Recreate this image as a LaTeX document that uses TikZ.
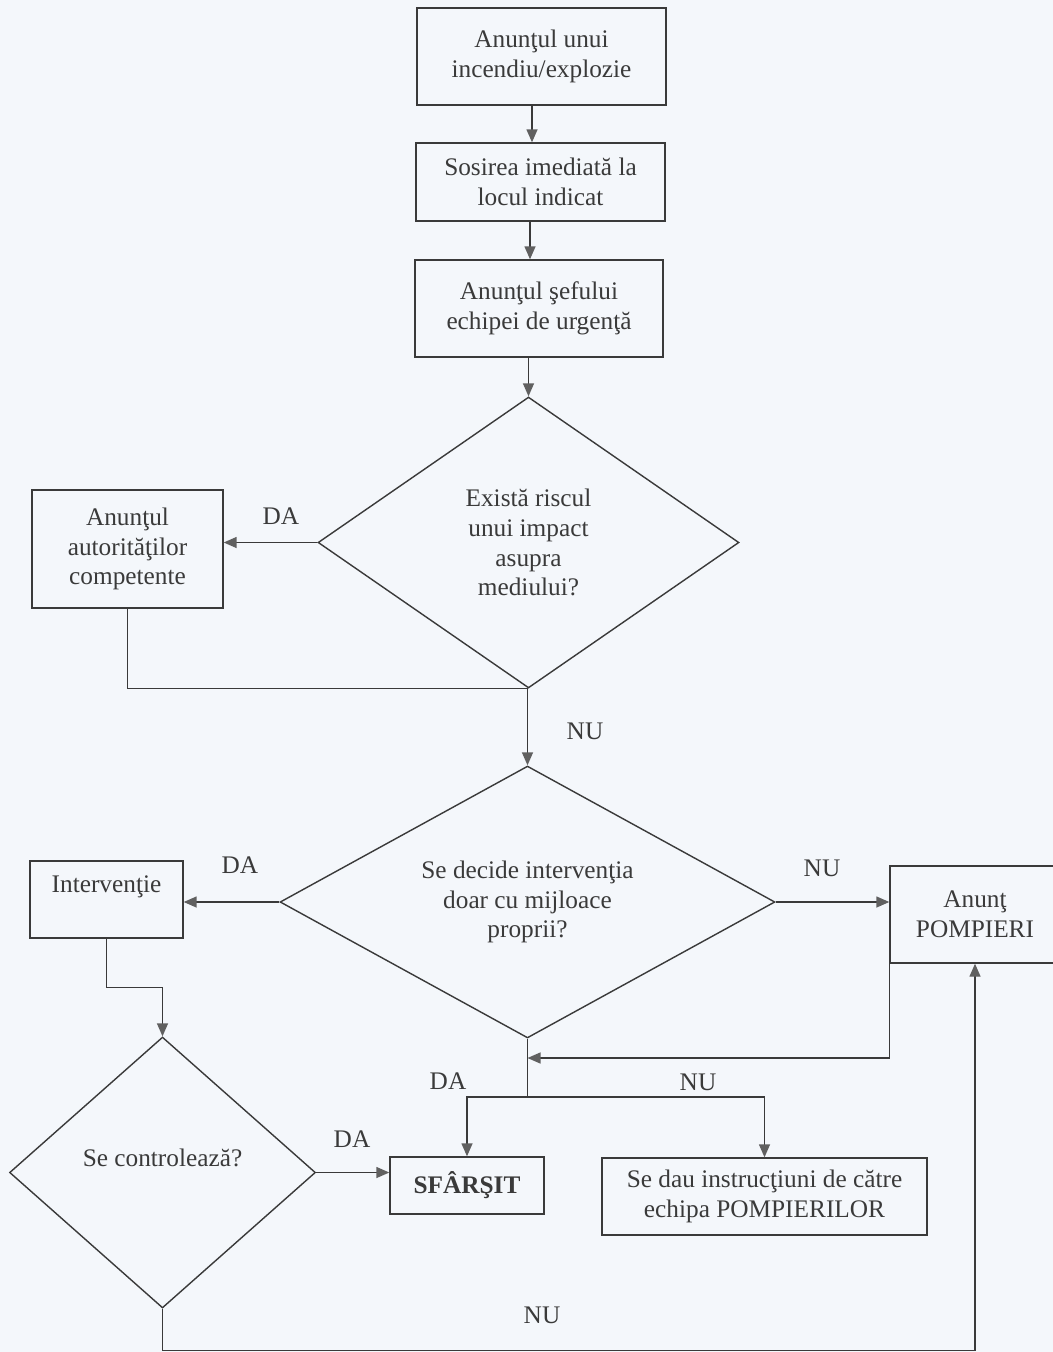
\documentclass[tikz,border=0pt]{standalone}
\usepackage{fontspec}
\setmainfont{Liberation Serif}
\usetikzlibrary{shapes.geometric,arrows.meta}
\definecolor{paper}{RGB}{244,247,251}
\definecolor{ink}{RGB}{58,58,58}
\definecolor{tipgray}{RGB}{96,96,96}

\begin{document}
\begin{tikzpicture}[x=0.02cm,y=-0.02cm]
\tikzstyle{every node}+=[text=ink,font=\fontsize{14.4}{17}\selectfont,align=center]
\tikzstyle{box}=[draw=ink,line width=0.8pt,inner sep=2pt]
\tikzstyle{decision}=[draw=ink,line width=0.8pt,diamond,inner sep=0pt]
\tikzstyle{conn}=[draw=ink,line width=0.8pt]
\tikzstyle{arr}=[conn,-{Triangle[length=0.26cm,width=0.22cm,color=tipgray]}]
\fill[paper] (0,0) rectangle (1053,1352);
\useasboundingbox (0,0) rectangle (1053,1352);
\coordinate (spine) at (532,0);
\coordinate (spinetwo) at (530,0);
\node[box,minimum width=4.98cm,minimum height=1.94cm] (alarm) at (541.5,56.5) {Anunţul unui\\incendiu/explozie};
\node[box,minimum width=4.98cm,minimum height=1.56cm] (arrive) at (540.5,182) {Sosirea imediată la\\locul indicat};
\node[box,minimum width=4.96cm,minimum height=1.94cm] (chief) at (539,308.5) {Anunţul şefului\\echipei de urgenţă};
\node[decision,shape aspect=1.45,minimum width=8.42cm,minimum height=5.82cm] (risk) at (528.5,542.5) {Există riscul\\unui impact\\asupra\\mediului?};
\node[box,minimum width=3.82cm,minimum height=2.36cm] (authority) at (127.5,549) {Anunţul\\autorităţilor\\competente};
\node[decision,shape aspect=1.82,minimum width=9.9cm,minimum height=5.44cm] (decide) at (527.5,902) {Se decide intervenţia\\doar cu mijloace\\proprii?};
\node[box,minimum width=3.06cm,minimum height=1.54cm] (action) at (106.5,899.5) {Intervenţie\\\mbox{}};
\node[box,minimum width=3.4cm,minimum height=1.94cm] (firemen) at (975,914.5) {Anunţ\\POMPIERI};
\node[decision,shape aspect=1.13,minimum width=6.12cm,minimum height=5.42cm] (control) at (162.5,1172.5) {Se controlează?\\\mbox{}};
\node[box,minimum width=3.08cm,minimum height=1.14cm,font=\fontsize{14.4}{17}\selectfont\bfseries] (finish) at (467,1185.5) {SFÂRŞIT};
\node[box,minimum width=6.5cm,minimum height=1.54cm] (orders) at (764.5,1196.5) {Se dau instrucţiuni de către\\echipa POMPIERILOR};
\node (yesa) at (281,516) {DA};
\node (noa) at (585,731) {NU};
\node (yesb) at (240,865) {DA};
\node (nob) at (822,868) {NU};
\node (yesc) at (448,1081) {DA};
\node (noc) at (698,1082) {NU};
\node (yesd) at (352,1139) {DA};
\node (nod) at (542,1315) {NU};
\coordinate (split) at (decide.south |- 0,1097);
\coordinate (join) at (decide.south |- 0,1058);
\draw[arr] (alarm.south -| spine) -- (arrive.north -| spine);
\draw[arr] (arrive.south -| spinetwo) -- (chief.north -| spinetwo);
\draw[arr] (chief.south -| risk.north) -- (risk.north);
\draw[arr] (risk.west) -- (risk.west -| authority.east);
\draw[conn] (authority.south) |- (risk.south -| decide.north);
\draw[arr] (risk.south -| decide.north) -- (decide.north);
\draw[arr] (decide.west) -- (decide.west -| action.east);
\draw[arr] (decide.east) -- (decide.east -| firemen.west);
\draw[arr] (action.south) -- ++(0,49) -| (control.north);
\draw[conn] (decide.south) -- (split);
\draw[arr] (split) -| (finish.north);
\draw[arr] (split) -| (orders.north);
\draw[arr] (firemen.south west) |- (join);
\draw[arr] (control.east) -- (control.east -| finish.west);
\draw[arr] (control.south) -- ++(0,42) -| (firemen.south);
\end{tikzpicture}
\end{document}
